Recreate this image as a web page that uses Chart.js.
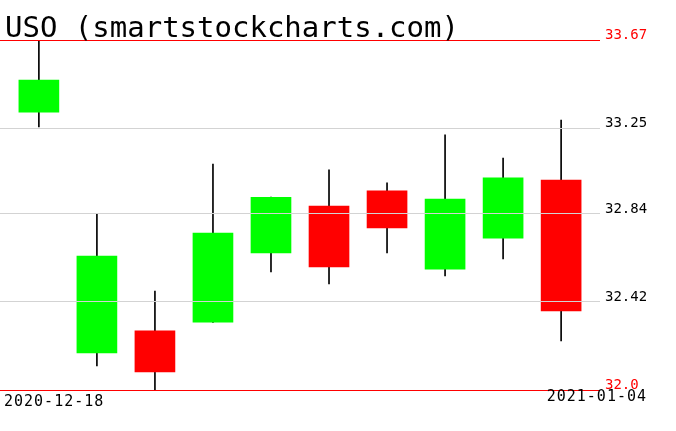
<!DOCTYPE html>
<html>
<head>
<meta charset="utf-8">
<script src="https://cdn.jsdelivr.net/npm/chart.js@4/dist/chart.umd.min.js"></script>
<style>
  html, body { margin: 0; padding: 0; background: #ffffff; }
  #wrap { width: 676px; height: 431px; position: relative; }
</style>
</head>
<body>
<div id="wrap"><canvas id="c"></canvas></div>
<script>
// ---- data ----
const title = 'USO (smartstockcharts.com)';
const dates = ['2020-12-18','2020-12-21','2020-12-22','2020-12-23','2020-12-24','2020-12-28','2020-12-29','2020-12-30','2020-12-31','2021-01-04'];
const opens  = [33.326, 32.177, 32.282, 32.324, 32.654, 32.878, 32.950, 32.577, 32.725, 33.002];
const highs  = [33.670, 32.840, 32.472, 33.078, 32.921, 33.050, 32.988, 33.217, 33.107, 33.288];
const lows   = [33.255, 32.115, 32.000, 32.322, 32.563, 32.506, 32.654, 32.544, 32.625, 32.234];
const closes = [33.479, 32.639, 32.086, 32.749, 32.919, 32.587, 32.773, 32.911, 33.012, 32.377];
const tickValues = [32.0, 32.42, 32.84, 33.25, 33.67];
const tickLabels = ['32.0', '32.42', '32.84', '33.25', '33.67'];

const UP = '#00ff00', DOWN = '#ff0000';

const bodyData = opens.map((o, i) => ({ x: i, y: [o, closes[i]] }));
const wickData = highs.map((h, i) => ({ x: i, y: [lows[i], h] }));
const bodyColors = opens.map((o, i) => closes[i] >= o ? UP : DOWN);

const textPlugin = {
  id: 'texts',
  afterDraw(chart) {
    const ctx = chart.ctx;
    ctx.save();
    ctx.fillStyle = '#000000';
    ctx.textBaseline = 'alphabetic';
    ctx.font = '29px "DejaVu Sans Mono"';
    ctx.textAlign = 'left';
    ctx.fillText(title, 5, 37);
    ctx.font = '15px "DejaVu Sans Mono"';
    try { ctx.letterSpacing = '1px'; } catch (e) {}
    ctx.textAlign = 'left';
    ctx.fillText(dates[0], 4, 406);
    ctx.textAlign = 'right';
    ctx.fillText(dates[dates.length - 1], 647, 401);
    ctx.restore();
  }
};

new Chart(document.getElementById('c'), {
  type: 'bar',
  data: {
    datasets: [
      {
        label: 'body',
        data: bodyData,
        backgroundColor: bodyColors,
        borderWidth: 0,
        barThickness: 40,
        grouped: false
      },
      {
        label: 'wick',
        data: wickData,
        backgroundColor: '#000000',
        borderWidth: 0,
        barThickness: 1,
        grouped: false
      }
    ]
  },
  plugins: [textPlugin],
  options: {
    responsive: true,
    maintainAspectRatio: false,
    animation: false,
    devicePixelRatio: 1,
    layout: { padding: { top: 40, bottom: 41, left: 0, right: 0 } },
    plugins: {
      legend: { display: false },
      tooltip: { enabled: false },
      title: { display: false }
    },
    scales: {
      x: {
        type: 'linear',
        min: -0.67,
        max: 9.67,
        offset: false,
        display: false
      },
      y: {
        position: 'right',
        min: 32.0,
        max: 33.67,
        afterBuildTicks(scale) {
          scale.ticks = tickValues.map(v => ({ value: v }));
        },
        afterFit(scale) { scale.width = 76; },
        border: { display: false },
        grid: {
          z: 1,
          drawTicks: false,
          lineWidth: 1,
          color(ctx) {
            return (ctx.index === 0 || ctx.index === tickValues.length - 1) ? '#ff0000' : '#d3d3d3';
          }
        },
        ticks: {
          padding: 5,
          labelOffset: -5,
          autoSkip: false,
          font: { family: 'DejaVu Sans Mono', size: 14 },
          color(ctx) {
            return (ctx.index === 0 || ctx.index === tickValues.length - 1) ? '#ff0000' : '#000000';
          },
          callback(value, index) { return tickLabels[index]; }
        }
      }
    }
  }
});
</script>
</body>
</html>
